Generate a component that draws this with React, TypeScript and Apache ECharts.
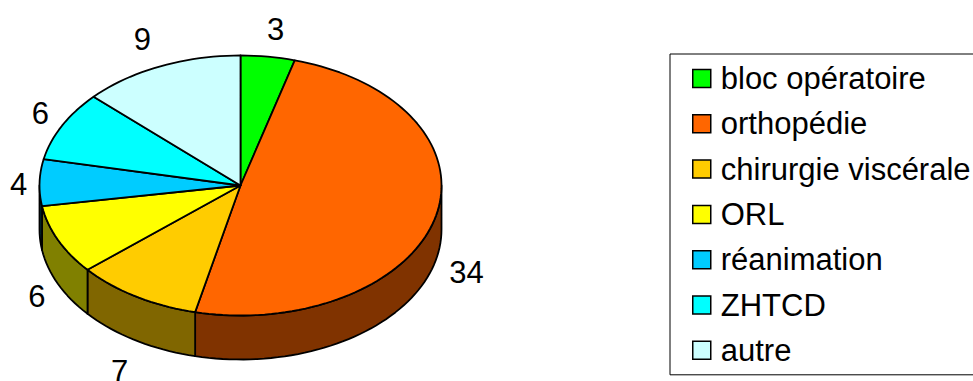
import React, { useEffect, useRef } from "react";
import * as echarts from "echarts";

const categories = ["bloc opératoire", "orthopédie", "chirurgie viscérale", "ORL", "réanimation", "ZHTCD", "autre"];
const values = [3, 34, 7, 6, 4, 6, 9];
const topColors = ["#00ff00", "#ff6600", "#ffcc00", "#ffff00", "#00ccff", "#00ffff", "#ccffff"];
const wallColors = ["#008000", "#803300", "#806600", "#808000", "#003340", "#008080", "#668080"];
const labelNudges = [[5, -7], [12, 6], [-6, 14], [-3, 4], [-1, 2], [-4, -3], [-10, -8]];

const CX = 240.5, CY = 185.5, RX = 201, RY = 130, DEPTH = 44, GAP = 20;
const FONT = "Liberation Sans, Arial, sans-serif";
const total = values.reduce((a, b) => a + b, 0);
const startDeg = (i: number) => (values.slice(0, i).reduce((a, b) => a + b, 0) / total) * 360;
const endDeg = (i: number) => startDeg(i + 1);
const pt = (deg: number, dy = 0, grow = 0) => {
  const r = (deg * Math.PI) / 180;
  return [CX + (RX + grow) * Math.sin(r), CY + dy - (RY + grow) * Math.cos(r)];
};
const arc = (a: number, b: number, dy = 0) => {
  const pts: number[][] = [];
  const n = Math.max(2, Math.ceil((b - a) / 2));
  for (let k = 0; k <= n; k++) pts.push(pt(a + ((b - a) * k) / n, dy));
  return pts;
};
const line = { stroke: "#000", lineWidth: 1.8, lineJoin: "round" };

export default function App() {
  const ref = useRef<HTMLDivElement>(null);
  useEffect(() => {
    const chart = echarts.init(ref.current!, null, { renderer: "svg" });
    const wallSeries = {
      type: "custom",
      name: "côtés",
      coordinateSystem: "none",
      silent: true,
      z: 1,
      data: values,
      renderItem: (p: any) => {
        const i = p.dataIndex;
        const a = Math.max(startDeg(i), 90), b = Math.min(endDeg(i), 270);
        if (b <= a) return { type: "group", children: [] };
        const points = [...arc(a, b), ...arc(a, b, DEPTH).reverse()];
        return { type: "polygon", shape: { points }, style: { fill: wallColors[i], ...line } };
      },
    };
    const topSeries = categories.map((name, i) => ({
      type: "custom",
      name,
      coordinateSystem: "none",
      silent: true,
      z: 2,
      itemStyle: { color: topColors[i] },
      data: [values[i]],
      renderItem: () => {
        const a = startDeg(i), b = endDeg(i), mid = (a + b) / 2;
        const anchor = pt(mid, mid > 90 && mid < 270 ? DEPTH : 0, GAP);
        return {
          type: "group",
          children: [
            { type: "polygon", shape: { points: [[CX, CY], ...arc(a, b)] }, style: { fill: topColors[i], ...line } },
            {
              type: "text",
              style: {
                x: anchor[0] + labelNudges[i][0],
                y: anchor[1] + labelNudges[i][1],
                text: String(values[i]),
                fill: "#000",
                font: `31px ${FONT}`,
                align: "center",
                verticalAlign: "middle",
              },
            },
          ],
        };
      },
    }));
    chart.setOption({
      animation: false,
      backgroundColor: "#fff",
      legend: {
        data: categories,
        orient: "vertical",
        left: 670,
        top: 54,
        selectedMode: false,
        backgroundColor: "#fff",
        borderColor: "#000",
        borderWidth: 1,
        borderRadius: 0,
        padding: [9, 10, 9, 22],
        itemWidth: 18,
        itemHeight: 18,
        itemGap: 14.3,
        icon: "rect",
        itemStyle: { borderColor: "#000", borderWidth: 1.5 },
        textStyle: { fontFamily: FONT, fontSize: 31, color: "#000", padding: [0, 0, 0, 5] },
      },
      series: [wallSeries, ...topSeries],
    });
    return () => chart.dispose();
  }, []);
  return <div ref={ref} style={{ position: "absolute", left: 0, top: 0, width: 973, height: 381 }} />;
}
